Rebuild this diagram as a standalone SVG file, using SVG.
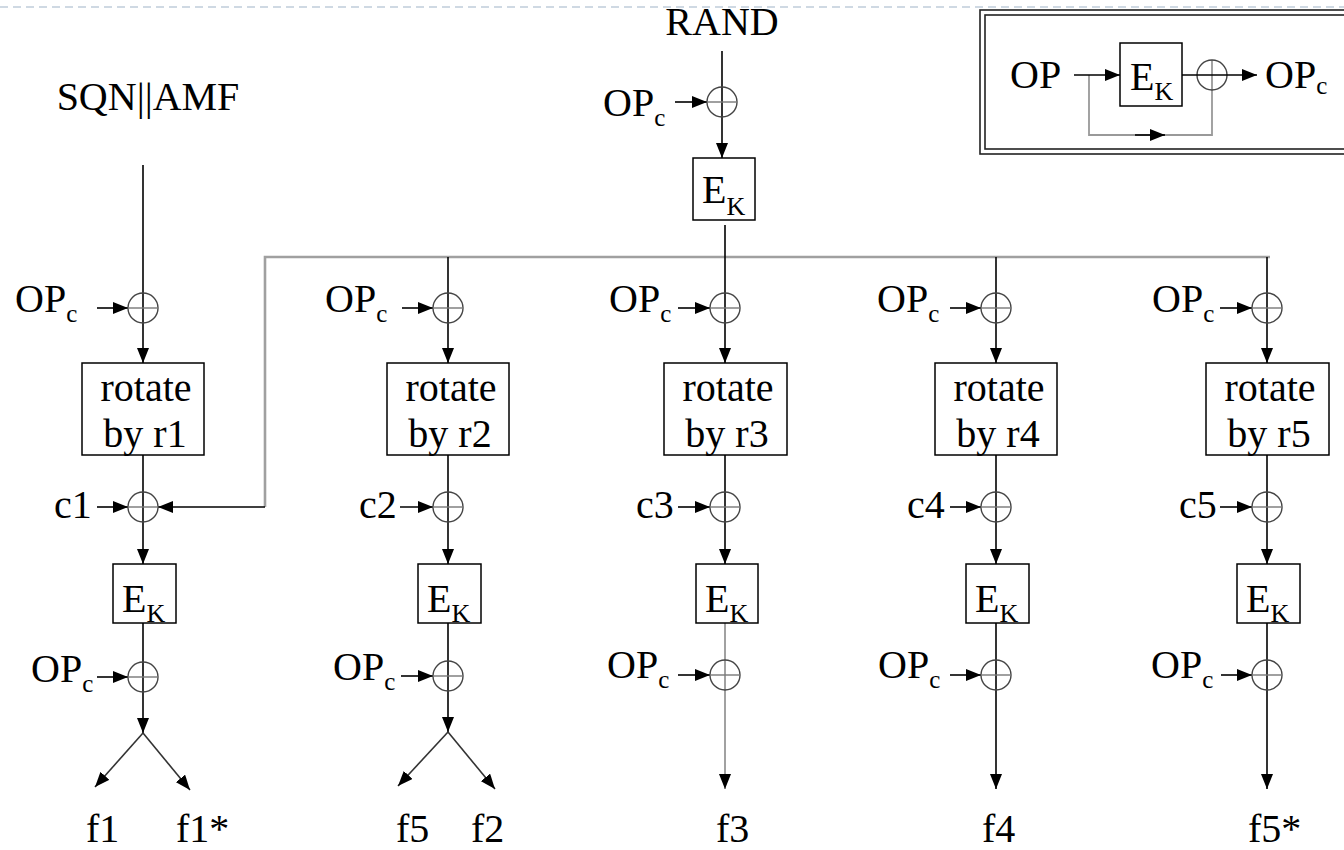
<svg xmlns="http://www.w3.org/2000/svg" width="1344" height="850" viewBox="0 0 1344 850" font-family="'Liberation Serif', 'Times New Roman', 'DejaVu Serif', serif">
<style>
text{font-family:'Liberation Serif','Times New Roman','DejaVu Serif',serif}
.t{font-size:40px;fill:#000}
.s{font-size:26px}
.c{font-size:25px}
.ln{stroke:#000;stroke-width:1.6;fill:none}
.gy{stroke:#8a8a8a;stroke-width:1.6;fill:none}
.fb{stroke:#a0a0a0;stroke-width:2.6;fill:none}
.sp{stroke:#333;stroke-width:1.6;fill:none}
.box{fill:#fff;stroke:#000;stroke-width:1.5}
.xc{fill:none;stroke:#444;stroke-width:1.4}
.xh{stroke:#777;stroke-width:1.4}
</style>
<defs>
<marker id="arr" viewBox="0 0 15 12" refX="15" refY="6" markerWidth="15" markerHeight="12" markerUnits="userSpaceOnUse" orient="auto"><path d="M0,0 L15,6 L0,12 z" fill="#000"/></marker>
</defs>
<rect width="1344" height="850" fill="#fff"/>
<line x1="0" y1="7" x2="1344" y2="7" stroke="#cfd9e3" stroke-width="2" stroke-dasharray="8 5"/>

<g id="connectors">
<line class="ln" x1="722" y1="51" x2="722" y2="158" marker-end="url(#arr)"/>
<line class="ln" x1="675" y1="102" x2="707" y2="102" marker-end="url(#arr)"/>
<polyline class="fb" points="265,507 265,257 1270,257"/>
<line class="ln" x1="265" y1="507" x2="158" y2="507" marker-end="url(#arr)"/>
<line class="ln" x1="143" y1="165" x2="143" y2="363" marker-end="url(#arr)"/>
<line class="ln" x1="143" y1="455" x2="143" y2="564" marker-end="url(#arr)"/>
<line class="ln" x1="143" y1="623" x2="143" y2="733" marker-end="url(#arr)"/>
<line class="sp" x1="143" y1="733" x2="95" y2="787" marker-end="url(#arr)"/>
<line class="sp" x1="143" y1="733" x2="190" y2="790" marker-end="url(#arr)"/>
<line class="ln" x1="97" y1="308" x2="128" y2="308" marker-end="url(#arr)"/>
<line class="ln" x1="97" y1="507" x2="128" y2="507" marker-end="url(#arr)"/>
<line class="ln" x1="97" y1="677" x2="128" y2="677" marker-end="url(#arr)"/>
<line class="ln" x1="448" y1="257" x2="448" y2="363" marker-end="url(#arr)"/>
<line class="ln" x1="448" y1="455" x2="448" y2="564" marker-end="url(#arr)"/>
<line class="ln" x1="448" y1="623" x2="448" y2="732" marker-end="url(#arr)"/>
<line class="sp" x1="448" y1="732" x2="398" y2="786" marker-end="url(#arr)"/>
<line class="sp" x1="448" y1="732" x2="495" y2="789" marker-end="url(#arr)"/>
<line class="ln" x1="402" y1="308" x2="433" y2="308" marker-end="url(#arr)"/>
<line class="ln" x1="400" y1="507" x2="433" y2="507" marker-end="url(#arr)"/>
<line class="ln" x1="401" y1="676" x2="433" y2="676" marker-end="url(#arr)"/>
<line class="ln" x1="725" y1="225" x2="725" y2="363" marker-end="url(#arr)"/>
<line class="ln" x1="725" y1="455" x2="725" y2="564" marker-end="url(#arr)"/>
<line class="gy" x1="725" y1="623" x2="725" y2="789" marker-end="url(#arr)"/>
<line class="ln" x1="678" y1="308" x2="710" y2="308" marker-end="url(#arr)"/>
<line class="ln" x1="678" y1="507" x2="710" y2="507" marker-end="url(#arr)"/>
<line class="ln" x1="678" y1="675" x2="710" y2="675" marker-end="url(#arr)"/>
<line class="ln" x1="996" y1="257" x2="996" y2="363" marker-end="url(#arr)"/>
<line class="ln" x1="996" y1="455" x2="996" y2="564" marker-end="url(#arr)"/>
<line class="ln" x1="996" y1="623" x2="996" y2="789" marker-end="url(#arr)"/>
<line class="ln" x1="950" y1="308" x2="981" y2="308" marker-end="url(#arr)"/>
<line class="ln" x1="950" y1="507" x2="981" y2="507" marker-end="url(#arr)"/>
<line class="ln" x1="950" y1="675" x2="981" y2="675" marker-end="url(#arr)"/>
<line class="ln" x1="1267" y1="257" x2="1267" y2="363" marker-end="url(#arr)"/>
<line class="ln" x1="1267" y1="455" x2="1267" y2="564" marker-end="url(#arr)"/>
<line class="ln" x1="1267" y1="623" x2="1267" y2="789" marker-end="url(#arr)"/>
<line class="ln" x1="1220" y1="308" x2="1252" y2="308" marker-end="url(#arr)"/>
<line class="ln" x1="1220" y1="507" x2="1252" y2="507" marker-end="url(#arr)"/>
<line class="ln" x1="1221" y1="675" x2="1252" y2="675" marker-end="url(#arr)"/>
</g>

<g id="rand"><text class="t" x="722" y="35" text-anchor="middle">RAND</text></g>
<g id="sqnamf"><text class="t" x="148" y="110" text-anchor="middle">SQN||AMF</text></g>

<g id="xor-rand">
<circle class="xc" cx="722" cy="102" r="15"/><line class="xh" x1="707" y1="102" x2="737" y2="102"/>
<text class="t" x="603" y="116">OP<tspan class="c" dy="10">c</tspan></text>
</g>
<g id="ek-top">
<rect class="box" x="693" y="158" width="62" height="62"/>
<text class="t" x="702" y="203">E<tspan class="s" dy="12">K</tspan></text>
</g>

<g id="xor1a"><circle class="xc" cx="143" cy="308" r="15"/><line class="xh" x1="128" y1="308" x2="158" y2="308"/>
<text class="t" x="15" y="312">OP<tspan class="c" dy="10">c</tspan></text></g>
<g id="rot1"><rect class="box" x="82" y="363" width="122" height="92"/>
<text class="t" x="146" y="401" text-anchor="middle">rotate</text><text class="t" x="145" y="447" text-anchor="middle">by r1</text></g>
<g id="xor1b"><circle class="xc" cx="143" cy="507" r="15"/><line class="xh" x1="128" y1="507" x2="158" y2="507"/>
<text class="t" x="54" y="518">c1</text></g>
<g id="ek1"><rect class="box" x="113" y="564" width="63" height="59"/>
<text class="t" x="122" y="612">E<tspan class="s" dy="10">K</tspan></text></g>
<g id="xor1c"><circle class="xc" cx="143" cy="677" r="15"/><line class="xh" x1="128" y1="677" x2="158" y2="677"/>
<text class="t" x="31" y="682">OP<tspan class="c" dy="10">c</tspan></text></g>
<g id="out1"><text class="t" x="86" y="842">f1</text><text class="t" x="176" y="842">f1*</text></g>

<g id="xor2a"><circle class="xc" cx="448" cy="308" r="15"/><line class="xh" x1="433" y1="308" x2="463" y2="308"/>
<text class="t" x="325" y="312">OP<tspan class="c" dy="10">c</tspan></text></g>
<g id="rot2"><rect class="box" x="387" y="363" width="122" height="92"/>
<text class="t" x="451" y="401" text-anchor="middle">rotate</text><text class="t" x="450" y="447" text-anchor="middle">by r2</text></g>
<g id="xor2b"><circle class="xc" cx="448" cy="507" r="15"/><line class="xh" x1="433" y1="507" x2="463" y2="507"/>
<text class="t" x="359" y="518">c2</text></g>
<g id="ek2"><rect class="box" x="418" y="564" width="63" height="59"/>
<text class="t" x="427" y="612">E<tspan class="s" dy="10">K</tspan></text></g>
<g id="xor2c"><circle class="xc" cx="448" cy="676" r="15"/><line class="xh" x1="433" y1="676" x2="463" y2="676"/>
<text class="t" x="333" y="680">OP<tspan class="c" dy="10">c</tspan></text></g>
<g id="out2"><text class="t" x="396" y="842">f5</text><text class="t" x="471" y="842">f2</text></g>

<g id="xor3a"><circle class="xc" cx="725" cy="308" r="15"/><line class="xh" x1="710" y1="308" x2="740" y2="308"/>
<text class="t" x="609" y="312">OP<tspan class="c" dy="10">c</tspan></text></g>
<g id="rot3"><rect class="box" x="664" y="363" width="123" height="92"/>
<text class="t" x="728" y="401" text-anchor="middle">rotate</text><text class="t" x="727" y="447" text-anchor="middle">by r3</text></g>
<g id="xor3b"><circle class="xc" cx="725" cy="507" r="15"/><line class="xh" x1="710" y1="507" x2="740" y2="507"/>
<text class="t" x="636" y="518">c3</text></g>
<g id="ek3"><rect class="box" x="696" y="564" width="62" height="59"/>
<text class="t" x="705" y="612">E<tspan class="s" dy="10">K</tspan></text></g>
<g id="xor3c"><circle class="xc" cx="725" cy="675" r="15"/><line class="xh" x1="710" y1="675" x2="740" y2="675"/>
<text class="t" x="607" y="678">OP<tspan class="c" dy="10">c</tspan></text></g>
<g id="out3"><text class="t" x="716" y="842">f3</text></g>

<g id="xor4a"><circle class="xc" cx="996" cy="308" r="15"/><line class="xh" x1="981" y1="308" x2="1011" y2="308"/>
<text class="t" x="877" y="312">OP<tspan class="c" dy="10">c</tspan></text></g>
<g id="rot4"><rect class="box" x="935" y="363" width="122" height="92"/>
<text class="t" x="999" y="401" text-anchor="middle">rotate</text><text class="t" x="998" y="447" text-anchor="middle">by r4</text></g>
<g id="xor4b"><circle class="xc" cx="996" cy="507" r="15"/><line class="xh" x1="981" y1="507" x2="1011" y2="507"/>
<text class="t" x="907" y="518">c4</text></g>
<g id="ek4"><rect class="box" x="966" y="564" width="63" height="59"/>
<text class="t" x="975" y="612">E<tspan class="s" dy="10">K</tspan></text></g>
<g id="xor4c"><circle class="xc" cx="996" cy="675" r="15"/><line class="xh" x1="981" y1="675" x2="1011" y2="675"/>
<text class="t" x="878" y="678">OP<tspan class="c" dy="10">c</tspan></text></g>
<g id="out4"><text class="t" x="982" y="842">f4</text></g>

<g id="xor5a"><circle class="xc" cx="1267" cy="308" r="15"/><line class="xh" x1="1252" y1="308" x2="1282" y2="308"/>
<text class="t" x="1152" y="312">OP<tspan class="c" dy="10">c</tspan></text></g>
<g id="rot5"><rect class="box" x="1206" y="363" width="123" height="92"/>
<text class="t" x="1270" y="401" text-anchor="middle">rotate</text><text class="t" x="1269" y="447" text-anchor="middle">by r5</text></g>
<g id="xor5b"><circle class="xc" cx="1267" cy="507" r="15"/><line class="xh" x1="1252" y1="507" x2="1282" y2="507"/>
<text class="t" x="1179" y="518">c5</text></g>
<g id="ek5"><rect class="box" x="1237" y="564" width="63" height="59"/>
<text class="t" x="1246" y="612">E<tspan class="s" dy="10">K</tspan></text></g>
<g id="xor5c"><circle class="xc" cx="1267" cy="675" r="15"/><line class="xh" x1="1252" y1="675" x2="1282" y2="675"/>
<text class="t" x="1151" y="678">OP<tspan class="c" dy="10">c</tspan></text></g>
<g id="out5"><text class="t" x="1248" y="842">f5*</text></g>

<g id="inset">
<rect x="980" y="10" width="420" height="144" fill="none" stroke="#222" stroke-width="1.6"/>
<rect x="985" y="15" width="410" height="134" fill="none" stroke="#222" stroke-width="1.6"/>
<text class="t" x="1010" y="88">OP</text>
<polyline points="1089,75 1089,135 1212,135 1212,60" fill="none" stroke="#999" stroke-width="1.8"/>
<line class="ln" x1="1135" y1="135" x2="1165" y2="135" marker-end="url(#arr)"/>
<line class="ln" x1="1074" y1="75" x2="1120" y2="75" marker-end="url(#arr)"/>
<rect class="box" x="1120" y="43" width="62" height="63"/>
<text class="t" x="1130" y="90">E<tspan class="s" dy="10">K</tspan></text>
<circle class="xc" cx="1212" cy="75" r="15"/>
<line class="ln" x1="1182" y1="75" x2="1257" y2="75" marker-end="url(#arr)"/>
<text class="t" x="1265" y="88">OP<tspan class="c" dy="6">c</tspan></text>
</g>
</svg>
